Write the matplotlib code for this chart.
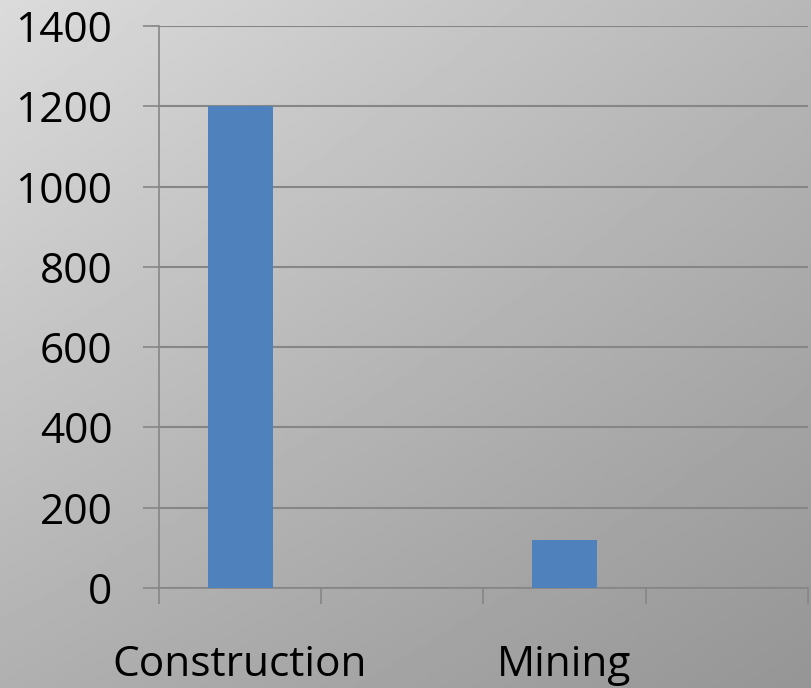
import numpy as np
import matplotlib.pyplot as plt

# sector totals (4 category slots, only two labelled)
sectores = ["Construction", "", "Mining", ""]
valores = [1200, 0, 120, 0]
y_ticks = [0, 200, 400, 600, 800, 1000, 1200, 1400]

plt.rcParams['font.family'] = ['Open Sans', 'DejaVu Sans']

fig = plt.figure(figsize=(8.12, 6.88), dpi=100)

# fondo degradado gris (claro arriba a la izquierda, oscuro abajo a la derecha)
fondo = fig.add_axes([0, 0, 1, 1], zorder=0)
xx, yy = np.meshgrid(np.linspace(0, 1, 400), np.linspace(0, 1, 340))
grad = 0.86 - 0.14 * xx - 0.17 * yy + 0.035 * xx * yy
fondo.imshow(grad, cmap='gray', vmin=0, vmax=1, aspect='auto',
             extent=[0, 1, 0, 1], origin='upper')
fondo.axis('off')

ax = fig.add_axes([0.1958, 0.1453, 0.799, 0.8169], zorder=1)
ax.patch.set_alpha(0)

x = np.arange(len(sectores))
ax.bar(x, valores, width=0.4, color='#4f81bd', zorder=3)

ax.set_xlim(-0.5, len(sectores) - 0.5)
ax.set_ylim(0, 1400)
ax.set_yticks(y_ticks)
ax.set_yticklabels([str(v) for v in y_ticks], fontsize=30.5)
ax.yaxis.grid(True, color='#868686', linewidth=1.5, zorder=1)

ax.set_xticks(x)
ax.set_xticklabels(sectores, fontsize=30.5)
ax.set_xticks(np.arange(-0.5, len(sectores)), minor=True)
ax.tick_params(axis='x', which='major', length=0, pad=40)
ax.tick_params(axis='x', which='minor', length=11.5, width=1.2, color='#868686')
ax.tick_params(axis='y', length=11.5, width=1.2, color='#868686', pad=22)

for lado in ['top', 'right']:
    ax.spines[lado].set_visible(False)
for lado in ['left', 'bottom']:
    ax.spines[lado].set_color('#868686')
    ax.spines[lado].set_linewidth(1.2)

fig.savefig('out.png', dpi=100)
